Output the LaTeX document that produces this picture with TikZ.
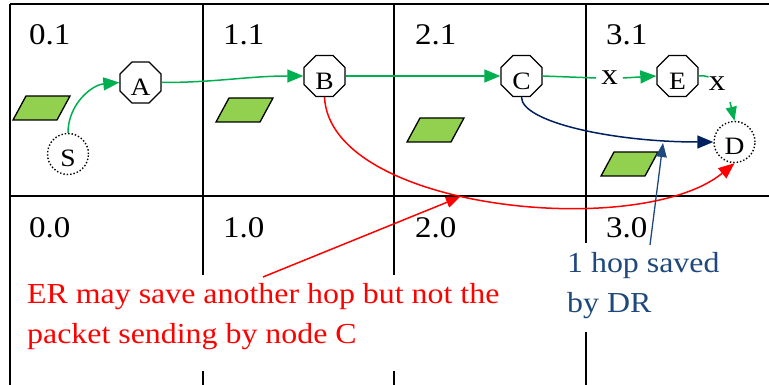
\documentclass[tikz,border=0pt]{standalone}
\usepackage{fontspec}
\setmainfont{Liberation Serif}[FakeStretch=1.1]
\usetikzlibrary{shapes.geometric,arrows.meta,calc}
\definecolor{grn}{HTML}{00B050}
\definecolor{leaf}{HTML}{92D050}
\definecolor{navyc}{HTML}{002060}
\definecolor{steel}{HTML}{1F497D}
\begin{document}
\begin{tikzpicture}[x=1pt,y=-1pt,
  gridline/.style={line width=2pt,black},
  leafbox/.style={fill=leaf,draw=black,line width=1.3pt,line join=miter},
  octnode/.style={draw,line width=1.3pt,regular polygon,regular polygon sides=8,minimum size=44.4pt,inner sep=0pt,fill=white,font=\fontsize{25}{25}\selectfont,text height=26.5pt,text depth=0pt},
  dotnode/.style={draw,circle,dotted,line width=1.4pt,minimum size=41pt,inner sep=0pt,font=\fontsize{25}{25}\selectfont,text height=25pt,text depth=0pt},
  celllab/.style={anchor=base west,inner sep=0pt,font=\fontsize{30}{30}\selectfont},
  xmark/.style={inner sep=5pt,font=\fontsize{30}{30}\selectfont},
  tipbig/.style={-{Triangle[length=16pt,width=13pt]}},
  tipsmall/.style={-{Triangle[length=14pt,width=11pt]}},
  flow/.style={grn,line width=1.5pt},
  note/.style={anchor=base west,inner sep=0pt,font=\fontsize{29}{29}\selectfont}
]
\useasboundingbox (0,0) rectangle (769,385);
% grid
\draw[gridline] (10,4) -- (769,4);
\draw[gridline] (10,196) -- (769,196);
\draw[gridline] (10,4) -- (10,385);
\draw[gridline] (203,4) -- (203,385);
\draw[gridline] (394,4) -- (394,385);
\draw[gridline] (586,4) -- (586,385);
% cell labels
\node[celllab] (l01) at (29,45) {0.1};
\node[celllab] (l11) at (223,45) {1.1};
\node[celllab] (l21) at (415,45) {2.1};
\node[celllab] (l31) at (606,45) {3.1};
\node[celllab] (l00) at (29,237) {0.0};
\node[celllab] (l10) at (223,237) {1.0};
\node[celllab] (l20) at (415,237) {2.0};
\node[celllab] (l30) at (606,237) {3.0};
% green parallelograms
\draw[leafbox] (13,120) -- (57,120) -- (70,96) -- (26,96) -- cycle;
\draw[leafbox] (216,122) -- (260,122) -- (273,98) -- (229,98) -- cycle;
\draw[leafbox] (407,142) -- (451,142) -- (464,118) -- (420,118) -- cycle;
\draw[leafbox] (601,176) -- (645,176) -- (658,152) -- (614,152) -- cycle;
% nodes
\node[octnode] (A) at (140.5,82.5) {A};
\node[octnode] (B) at (324.5,76) {B};
\node[octnode] (C) at (521.5,76) {C};
\node[octnode] (E) at (677.5,76) {E};
\node[dotnode] (S) at (68,154) {S};
\node[dotnode] (D) at (734.5,142) {D};
\node[xmark] (x1) at (609.5,78) {x};
\node[xmark] (x2) at (717,84) {x};
\coordinate (g2) at (730,102);
% green route
\draw[flow,tipbig] (S.north) to[out=90,in=185] (A.west);
\draw[flow,tipbig] (A.east) to[out=0,in=180] (B.west);
\draw[flow,tipbig] (B.east) -- (C.west);
\draw[flow] (C.east) -- (x1.west);
\draw[flow,tipbig] (x1.east) -- (E.west);
\draw[flow] (E.east) to[out=5,in=160] ($(x2.north west)+(5,5)$);
\draw[flow,tipsmall] (g2) -- (D.north);
% DR (navy) and ER (red)
\draw[navyc,line width=1.5pt,tipbig] (C.south) .. controls +(0,25) and +(-100,0) .. (D.west);
\draw[red,line width=1.5pt,tipbig] (B.south) .. controls +(5.5,113) and +(-94.5,77.5) .. (D.south);
% annotation masks and texts
\fill[white] (20,275) rectangle (505,371);
\fill[white] (560,243) rectangle (740,332);
\node[note,text=red] (er1) at (27,303) {ER may save another hop but not the};
\node[note,text=red] (er2) at (27,343) {packet sending by node C};
\node[note,text=steel] (dr1) at (567,272) {1 hop saved};
\node[note,text=steel] (dr2) at (567,312) {by DR};
\coordinate (erfoot) at (263,277);
\coordinate (ertip) at (460,197);
\coordinate (drfoot) at (650,245);
\coordinate (drtip) at (663,143);
\draw[red,line width=1.5pt,tipsmall] (erfoot) -- (ertip);
\draw[steel,line width=1.3pt,tipsmall] (drfoot) -- (drtip);
\end{tikzpicture}
\end{document}
